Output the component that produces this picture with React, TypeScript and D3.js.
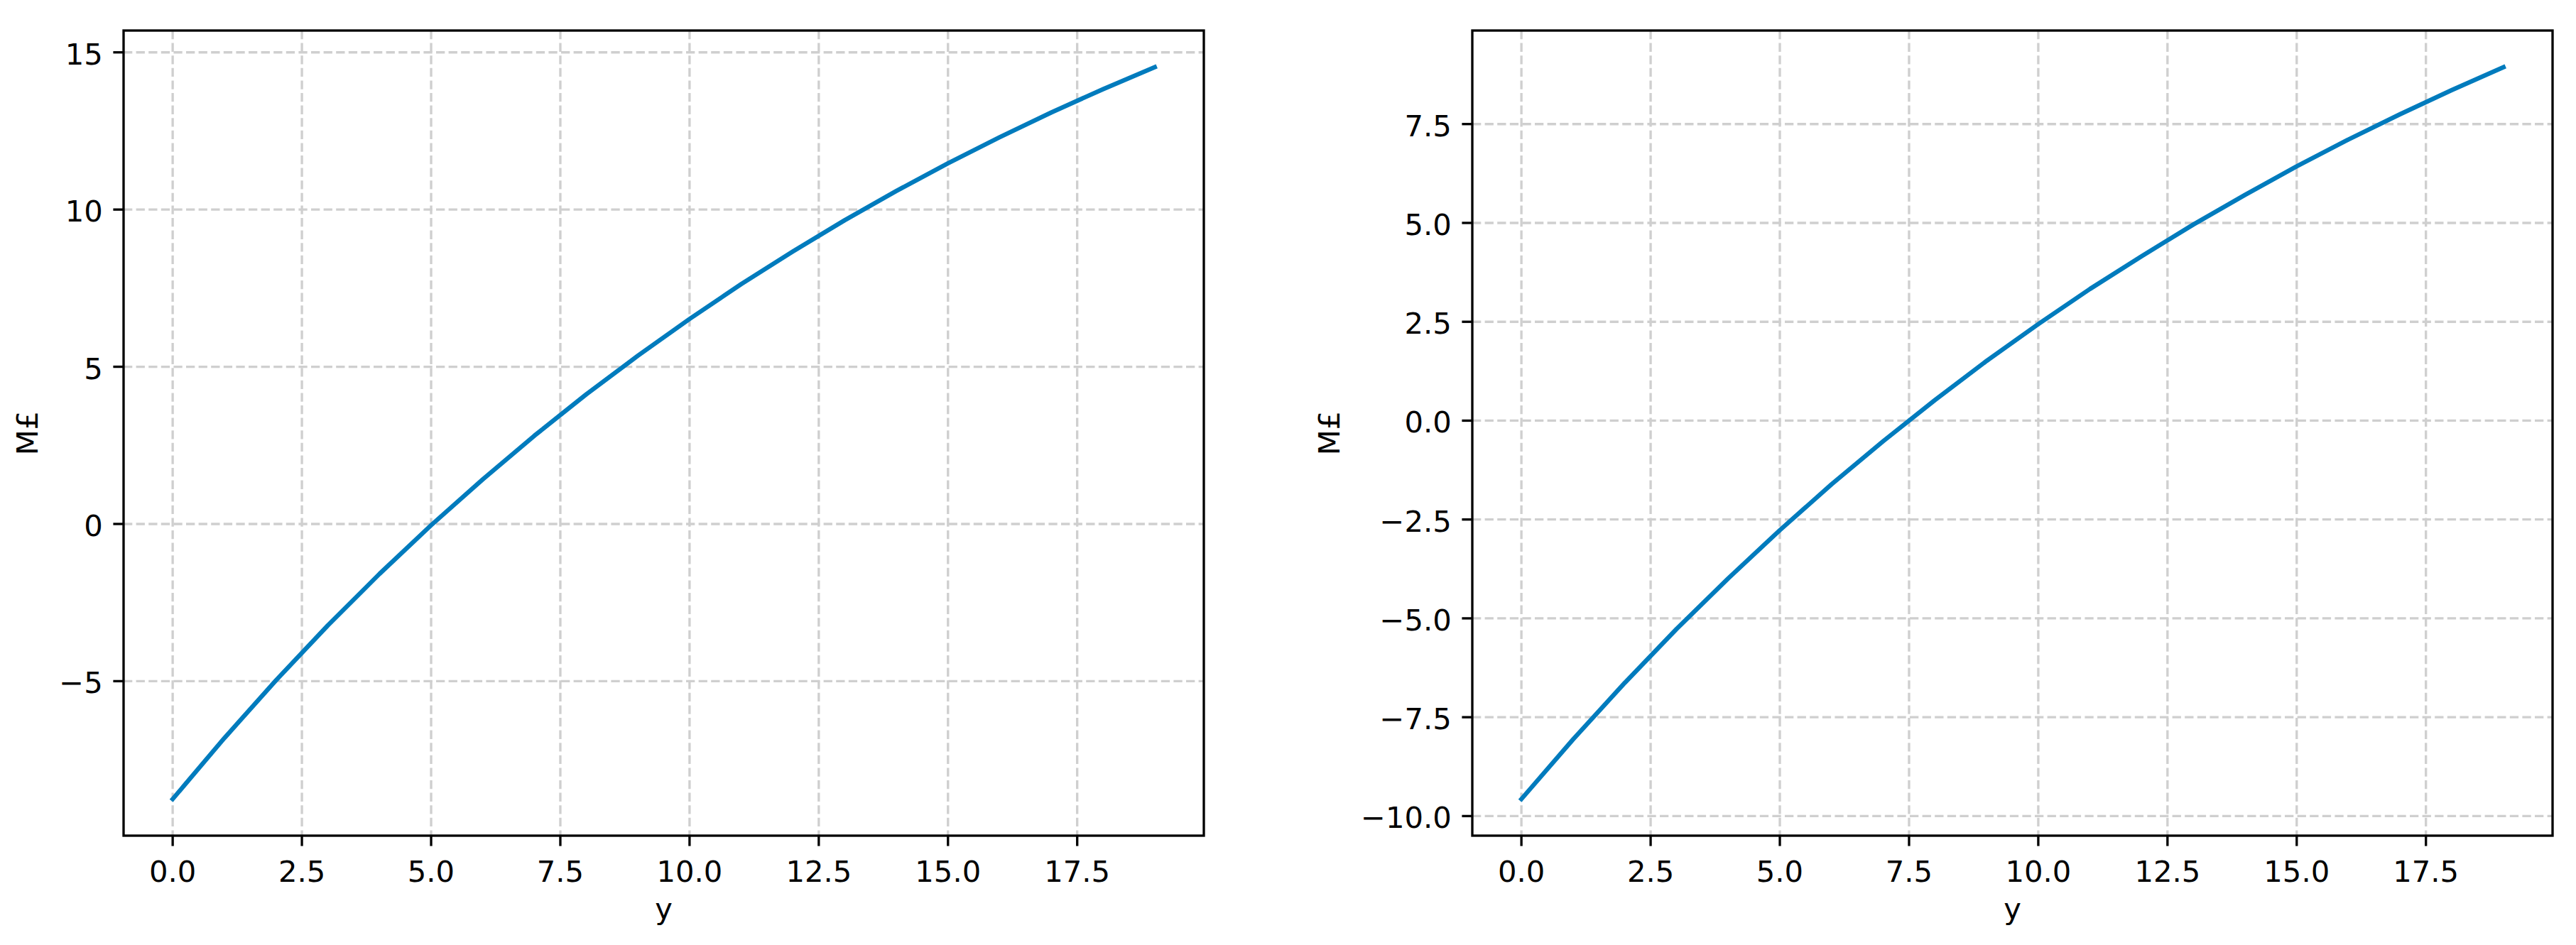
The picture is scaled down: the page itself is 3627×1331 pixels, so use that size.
import * as d3 from "d3";

// years on the x axis
const years = [0, 1, 2, 3, 4, 5, 6, 7, 8, 9, 10, 11, 12, 13, 14, 15, 16, 17, 18, 19];

// cumulative value in M£
const valuesLeft = [
  -8.75, -6.81, -4.97, -3.23, -1.59, -0.04, 1.42, 2.81, 4.12, 5.35,
  6.52, 7.63, 8.67, 9.66, 10.59, 11.47, 12.3, 13.09, 13.83, 14.53,
];
const valuesRight = [
  -9.57, -8.06, -6.63, -5.27, -3.99, -2.77, -1.61, -0.52, 0.52, 1.51,
  2.44, 3.33, 4.16, 4.96, 5.71, 6.43, 7.11, 7.75, 8.36, 8.94,
];

const xTicks = [0, 2.5, 5, 7.5, 10, 12.5, 15, 17.5];
const yTicksLeft = [-5, 0, 5, 10, 15];
const yTicksRight = [-10, -7.5, -5, -2.5, 0, 2.5, 5, 7.5];

const FONT = "DejaVu Sans";
const FS = 41.7;
const TICK = 14.6;
const SPINE = 3.33;

type PanelProps = {
  left: number;
  values: number[];
  yTicks: number[];
  yFmt: (n: number) => string;
  yLabelX: number;
};

const Panel = ({ left, values, yTicks, yFmt, yLabelX }: PanelProps) => {
  const top = 43,
    bottom = 1177,
    width = 1521;

  let x = d3.scaleLinear().domain([-0.95, 19.95]).range([left, left + width]);
  let [lo, hi] = d3.extent(values) as [number, number];
  let pad = (hi - lo) * 0.05;
  let y = d3.scaleLinear().domain([lo - pad, hi + pad]).range([bottom, top]);

  let line = d3
    .line<number>()
    .x((d, i) => x(years[i]))
    .y((d) => y(d));

  let xFmt = d3.format(".1f");

  return (
    <g>
      {/* grid */}
      {xTicks.map((t) => (
        <line
          key={"gx" + t}
          x1={x(t)}
          x2={x(t)}
          y1={top}
          y2={bottom}
          stroke="#cfcfcf"
          strokeWidth={3.33}
          strokeDasharray="12.3 5.3"
        />
      ))}
      {yTicks.map((t) => (
        <line
          key={"gy" + t}
          x1={left}
          x2={left + width}
          y1={y(t)}
          y2={y(t)}
          stroke="#cfcfcf"
          strokeWidth={3.33}
          strokeDasharray="12.3 5.3"
        />
      ))}

      <path
        d={line(values) || ""}
        fill="none"
        stroke="#007bbd"
        strokeWidth={6.25}
        strokeLinecap="square"
        strokeLinejoin="round"
      />

      <rect
        x={left}
        y={top}
        width={width}
        height={bottom - top}
        fill="none"
        stroke="#000"
        strokeWidth={SPINE}
      />

      {/* x ticks */}
      {xTicks.map((t) => (
        <g key={"tx" + t}>
          <line x1={x(t)} x2={x(t)} y1={bottom} y2={bottom + TICK} stroke="#000" strokeWidth={SPINE} />
          <text
            x={x(t)}
            y={bottom + 65}
            textAnchor="middle"
            fontFamily={FONT}
            fontSize={FS}
            fill="#000"
          >
            {xFmt(t)}
          </text>
        </g>
      ))}

      {/* y ticks */}
      {yTicks.map((t) => (
        <g key={"ty" + t}>
          <line x1={left - TICK} x2={left} y1={y(t)} y2={y(t)} stroke="#000" strokeWidth={SPINE} />
          <text
            x={left - TICK - 14.6}
            y={y(t) + 17}
            textAnchor="end"
            fontFamily={FONT}
            fontSize={FS}
            fill="#000"
          >
            {yFmt(t)}
          </text>
        </g>
      ))}

      <text
        x={left + width / 2}
        y={1294}
        textAnchor="middle"
        fontFamily={FONT}
        fontSize={FS}
        fill="#000"
      >
        y
      </text>
      <text
        transform={`translate(${yLabelX}, ${(top + bottom) / 2}) rotate(-90)`}
        textAnchor="middle"
        fontFamily={FONT}
        fontSize={FS}
        fill="#000"
      >
        M£
      </text>
    </g>
  );
};

export default function App() {
  return (
    <svg
      width={3627}
      height={1331}
      style={{ position: "absolute", left: 0, top: 0, background: "#fff" }}
    >
      <rect width={3627} height={1331} fill="#fff" />
      <Panel
        left={174}
        values={valuesLeft}
        yTicks={yTicksLeft}
        yFmt={d3.format("d")}
        yLabelX={53}
      />
      <Panel
        left={2073}
        values={valuesRight}
        yTicks={yTicksRight}
        yFmt={d3.format(".1f")}
        yLabelX={1886}
      />
    </svg>
  );
}
